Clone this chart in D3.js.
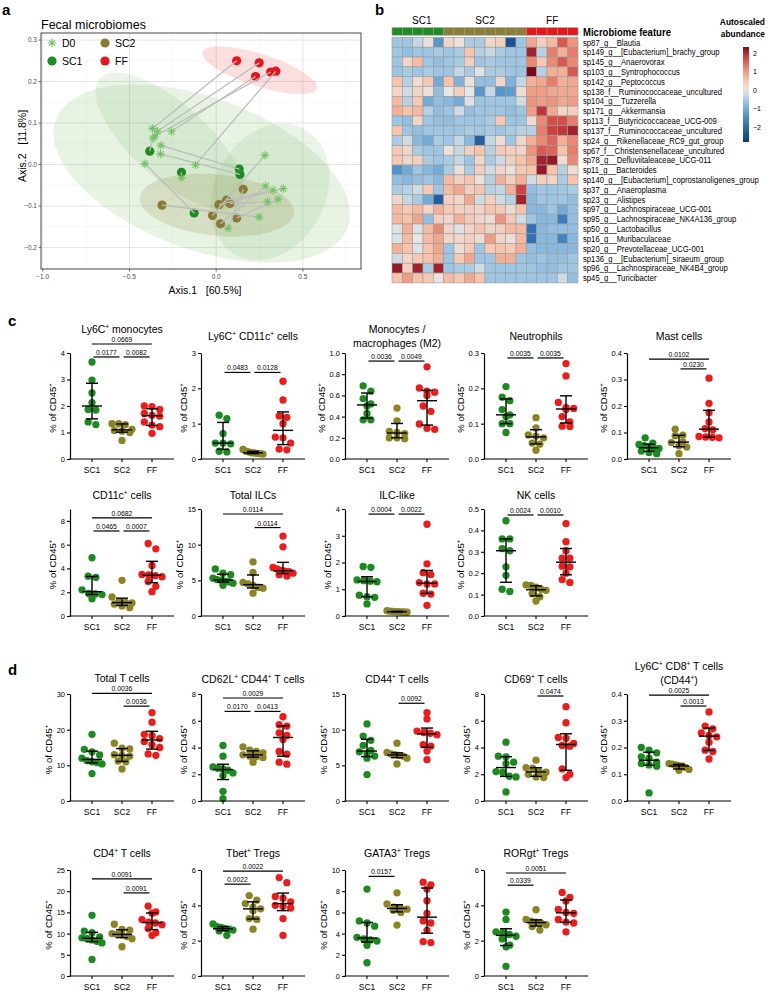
<!DOCTYPE html>
<html>
<head>
<meta charset="utf-8">
<script src="https://cdn.jsdelivr.net/npm/d3@7"></script>
<style>
  body { margin: 0; background: #fff; }
  svg { display: block; font-family: "Liberation Sans", Arial, Helvetica, sans-serif; }
</style>
</head>
<body>
<svg id="fig" width="768" height="992"></svg>
<script>
// ---- panel a : PCoA, each mouse has a D0 point and an end point ----
var d0X = [-0.367, -0.338, -0.257, -0.354, -0.119, -0.364, -0.200, -0.319, -0.321, -0.411, 0.248, 0.069, 0.329, 0.387, 0.281, 0.285, 0.358, 0.296];
var d0Y = [0.087, 0.080, 0.080, 0.068, -0.001, 0.063, -0.033, 0.046, 0.025, 0.002, -0.127, -0.154, -0.062, -0.058, 0.022, -0.052, -0.084, -0.090];
var endGroup = ["FF", "FF", "FF", "FF", "FF", "SC1", "SC1", "SC1", "SC1", "SC1", "SC2", "SC2", "SC2", "SC2", "SC2", "SC2", "SC2", "SC2"];
var endX = [0.118, 0.248, 0.227, 0.314, 0.344, -0.383, -0.200, 0.133, 0.137, -0.127, -0.312, 0.156, 0.060, 0.016, -0.021, 0.025, 0.118, 0.079];
var endY = [0.250, 0.245, 0.212, 0.223, 0.225, 0.032, -0.019, -0.011, -0.024, -0.117, -0.098, -0.060, -0.086, -0.097, -0.123, -0.143, -0.129, -0.094];
// confidence ellipses: centre + two half-axis vectors (data units)
var ellGroup = ["D0", "SC1", "SC1", "SC2", "FF"];
var ellCx = [-0.083, -0.267, 0.310, 0.004, 0.252];
var ellCy = [-0.022, 0.056, -0.066, -0.098, 0.227];
var ellU = [[0.842, -0.129], [0.404, -0.151], [-0.202, -0.151], [0.444, -0.020], [0.329, -0.044]];
var ellV = [[-0.148, -0.172], [-0.144, -0.068], [0.277, -0.066], [-0.023, -0.073], [-0.028, -0.037]];
var xTicksA = [-1.0, -0.5, 0.0, 0.5];
var yTicksA = [-0.2, -0.1, 0.0, 0.1, 0.2, 0.3];
var legendA = ["D0", "SC1", "SC2", "FF"];

// ---- panel b : heatmap ----
var heatCols = ["SC1", "SC1", "SC1", "SC1", "SC1", "SC2", "SC2", "SC2", "SC2", "SC2", "SC2", "SC2", "SC2", "FF", "FF", "FF", "FF", "FF"];
var heatRows = ["sp87_g__Blautia", "sp149_g__[Eubacterium]_brachy_group", "sp145_g__Anaerovorax", "sp103_g__Syntrophococcus",
  "sp142_g__Peptococcus", "sp138_f__Ruminococcaceae_uncultured", "sp104_g__Tuzzerella", "sp171_g__Akkermansia",
  "sp113_f__Butyricicoccaceae_UCG-009", "sp137_f__Ruminococcaceae_uncultured", "sp24_g__Rikenellaceae_RC9_gut_group",
  "sp67_f__Christensenellaceae_uncultured", "sp78_g__Defluviitaleaceae_UCG-011", "sp11_g__Bacteroides",
  "sp140_g__[Eubacterium]_coprostanoligenes_group", "sp37_g__Anaeroplasma", "sp23_g__Alistipes",
  "sp97_g__Lachnospiraceae_UCG-001", "sp95_g__Lachnospiraceae_NK4A136_group", "sp50_g__Lactobacillus",
  "sp16_g__Muribaculaceae", "sp20_g__Prevotellaceae_UCG-001", "sp136_g__[Eubacterium]_siraeum_group",
  "sp96_g__Lachnospiraceae_NK4B4_group", "sp45_g__Turicibacter"];
var heatValues = [
  [-0.6, -0.6, -0.3, 0.1, -1.3, 0.3, 0.1, -0.5, -0.5, 0.3, 0.4, -2.4, -0.6, 0.9, 0.4, 0.7, 1.6, 1.1],
  [-0.6, -0.7, -0.6, -0.6, -0.5, -0.6, -0.5, 0.6, -0.4, -0.3, -0.5, -0.6, -0.6, 2.1, -0.4, 1.3, 0.8, 1.3],
  [-0.6, 0.3, 0.7, -0.6, -0.7, -0.6, -0.5, 0.4, -0.6, -0.5, -0.6, -0.6, -0.6, 1.2, 0.5, 1.2, 1.6, 1.2],
  [-0.6, -0.5, -0.6, -0.5, -0.6, -0.6, -0.3, -0.5, -0.1, -0.5, -0.5, -0.6, -0.6, 2.35, -0.4, 0.8, 0.8, 1.6],
  [0.6, -0.4, 0.2, 0.5, -1.0, 0.6, -0.9, 0.1, -0.7, -0.7, 0.3, -0.9, -0.3, 0.8, 0.9, 1.3, 0.8, 0.9],
  [0.3, -0.2, 0.3, 0.1, -0.7, 0.0, 0.4, 0.0, -1.3, -0.3, -1.3, -1.2, 0.2, 1.0, 1.0, 0.9, 0.9, 0.9],
  [0.7, -0.4, 0.5, -1.0, -0.7, -0.8, -1.0, -0.1, -0.6, -0.6, -0.6, -0.6, -0.2, 1.1, 1.0, 1.1, 0.9, 1.0],
  [0.8, 0.6, 0.7, -0.4, -0.7, -0.6, -0.2, -0.7, -0.6, -0.6, -0.6, -0.7, -0.6, 1.0, 1.9, 0.9, 0.3, 0.4],
  [-0.6, -0.7, 0.3, -0.6, -0.7, -0.7, -0.6, -0.6, -0.6, -0.5, 0.5, -0.6, -0.6, 0.2, 1.2, 1.7, 1.7, 1.3],
  [0.6, -0.6, -0.7, -0.6, -0.6, -0.6, -0.6, -0.5, -0.6, -0.5, -0.6, -0.5, -0.4, -0.4, 1.3, 1.8, 1.9, 2.1],
  [-0.5, -0.2, -0.8, -1.0, -0.5, -0.6, -0.3, -0.8, -2.2, -0.3, 0.2, -0.6, 0.3, 0.8, 1.2, 1.5, 0.8, 1.2],
  [0.5, 0.3, -0.5, -0.6, -0.6, 0.1, -0.3, 0.4, 0.6, -0.4, 0.5, 0.4, 0.3, 1.1, 1.6, 1.5, 0.6, 1.3],
  [0.5, 0.3, 0.4, -0.5, -0.6, -0.5, -0.3, -0.6, 0.3, -0.5, -0.2, 0.4, 0.6, 0.9, 2.1, 2.2, 0.2, 1.2],
  [-1.4, -1.0, -0.6, -0.8, -1.0, -0.5, 0.1, -0.5, 0.4, -0.2, 0.3, 0.1, 0.5, 0.6, 2.2, 0.6, -0.4, 0.2],
  [-0.7, -0.8, -0.7, -0.6, -0.8, 0.7, 0.4, 0.6, 0.1, -0.4, 0.8, 0.4, 0.8, -0.2, 0.4, 0.3, -0.5, 0.6],
  [-0.5, -0.4, -0.2, 0.5, -0.6, 0.7, 0.9, 0.4, 0.6, -0.4, -0.3, 0.8, 1.8, -0.7, -0.6, -0.6, -0.6, -0.5],
  [0.3, -0.3, -0.5, -1.0, -2.2, 0.4, 0.3, 0.9, -0.2, 0.4, -0.2, -0.4, 2.1, -0.8, -0.6, -0.6, -0.6, -0.7],
  [0.7, 0.5, 0.7, 0.3, 0.8, 0.5, 0.4, 0.4, 0.3, 0.6, 0.5, 0.2, 0.6, -0.8, -0.8, -0.6, -1.0, -0.7],
  [0.7, 0.6, 0.9, -0.7, 0.4, 0.3, 0.8, 0.5, 0.3, 0.2, 1.1, 0.5, -0.2, -0.6, -0.8, -0.8, -1.7, -0.7],
  [-0.1, 0.8, -0.1, 0.7, 1.2, 0.3, -0.1, 0.3, 0.6, 0.3, 0.4, 0.7, 0.7, -1.9, -0.8, -0.7, -0.7, -0.7],
  [-0.1, 0.7, 0.0, 0.7, 0.9, 0.3, 0.3, 0.4, 0.2, 1.0, 0.3, 0.1, 0.7, -1.9, -0.8, -0.8, -1.6, -0.8],
  [0.8, 0.6, -0.1, 0.6, 0.9, -0.6, 0.2, 0.5, -0.6, 0.5, 0.6, 0.5, 0.8, -0.7, -0.8, -0.8, -0.8, -0.8],
  [-0.2, 0.3, 0.5, 0.6, 0.8, -0.6, 0.5, 0.9, -0.6, -0.6, 0.8, 0.8, -0.6, -0.7, -0.6, -0.7, -0.7, -0.6],
  [2.2, 0.4, 2.1, -0.5, 2.1, -0.6, -0.5, -0.5, -0.2, -0.6, -0.6, -0.6, -0.6, -0.6, -0.7, -0.7, -0.6, -0.6],
  [0.6, 1.0, 0.6, 0.5, 0.1, 0.7, 0.5, 0.9, 0.6, -0.6, -0.6, -0.6, -0.6, -0.6, -0.6, -0.6, -0.2, -0.7]
];
var heatLegendTicks = [2, 1, 0, -1, -2];

// ---- panels c and d : % of CD45+ per group (SC1, SC2, FF) ----
var groups = ["SC1", "SC2", "FF"];
var ly6cMono = [[3.66, 2.98, 2.49, 2.13, 1.87, 1.85, 1.40, 1.30], [1.33, 1.33, 1.30, 1.12, 1.08, 1.05, 1.00, 0.70], [2.0, 1.98, 1.87, 1.72, 1.65, 1.62, 1.40, 1.28, 1.22, 0.97]];
var ly6cCd11c = [[1.24, 1.14, 0.72, 0.45, 0.45, 0.43, 0.22, 0.20], [0.27, 0.22, 0.20, 0.18, 0.17, 0.16, 0.15, 0.14], [2.2, 1.67, 1.22, 1.18, 1.0, 0.62, 0.60, 0.45, 0.28, 0.26]];
var monoM2 = [[0.69, 0.64, 0.57, 0.52, 0.50, 0.43, 0.37, 0.37], [0.48, 0.36, 0.26, 0.25, 0.24, 0.20, 0.20, 0.19], [0.87, 0.67, 0.64, 0.63, 0.60, 0.50, 0.45, 0.33, 0.29, 0.28]];
var neutro = [[0.205, 0.175, 0.165, 0.14, 0.125, 0.12, 0.10, 0.10, 0.075], [0.117, 0.088, 0.068, 0.065, 0.060, 0.045, 0.042, 0.025], [0.27, 0.235, 0.16, 0.145, 0.143, 0.14, 0.12, 0.105, 0.093, 0.092]];
var mast = [[0.08, 0.06, 0.055, 0.05, 0.045, 0.04, 0.04, 0.03, 0.025, 0.02], [0.113, 0.09, 0.088, 0.065, 0.062, 0.05, 0.045, 0.02], [0.305, 0.21, 0.175, 0.14, 0.115, 0.11, 0.085, 0.083, 0.082, 0.08]];
var cd11c = [[4.9, 3.35, 3.25, 2.2, 1.9, 1.85, 1.8, 1.45], [3.0, 1.6, 1.2, 1.15, 1.1, 1.0, 0.85, 0.7], [6.1, 5.65, 4.25, 3.5, 3.45, 3.4, 3.3, 2.9, 2.5, 2.05]];
var ilcTotal = [[6.6, 6.0, 5.8, 5.3, 5.1, 5.0, 4.9, 4.8, 4.6, 4.3], [7.6, 6.1, 4.7, 4.5, 4.3, 4.0, 3.9, 3.2], [11.2, 9.7, 6.8, 6.6, 6.4, 6.3, 6.2, 6.0, 5.8, 5.6]];
var ilcLike = [[1.85, 1.82, 1.35, 1.32, 1.30, 1.28, 0.78, 0.72, 0.70, 0.45], [0.2, 0.18, 0.17, 0.16, 0.16, 0.15, 0.15, 0.14], [3.43, 1.95, 1.62, 1.55, 1.25, 1.2, 1.2, 0.85, 0.82, 0.4]];
var nk = [[0.445, 0.36, 0.36, 0.315, 0.305, 0.23, 0.19, 0.125, 0.115], [0.145, 0.143, 0.135, 0.125, 0.12, 0.105, 0.09, 0.07], [0.432, 0.347, 0.305, 0.27, 0.27, 0.233, 0.23, 0.2, 0.17, 0.157]];
var totalT = [[18.7, 14.5, 13.8, 12.9, 12.0, 11.3, 11.0, 10.8, 10.4, 7.7], [16.2, 14.8, 14.6, 13.0, 12.8, 12.6, 11.2, 11.0, 9.0], [24.8, 22.1, 18.7, 18.3, 17.5, 16.7, 15.8, 15.0, 13.2, 12.8]];
var cd62l = [[4.15, 3.35, 2.55, 2.45, 2.4, 2.3, 2.1, 1.9, 0.72, 0.18], [4.05, 3.8, 3.7, 3.6, 3.45, 3.35, 3.3, 3.25, 2.9], [6.3, 5.7, 5.6, 5.1, 4.9, 4.6, 3.7, 3.5, 2.9, 2.75]];
var cd44 = [[10.8, 9.1, 8.5, 7.8, 7.1, 6.9, 6.6, 6.3, 6.0, 3.7], [8.1, 6.8, 6.6, 6.5, 6.4, 6.3, 6.0, 5.2], [12.4, 11.5, 9.8, 9.6, 9.5, 9.3, 7.9, 7.7, 7.0, 5.8]];
var cd69 = [[4.4, 3.35, 3.3, 2.9, 2.8, 2.2, 2.15, 1.85, 1.8, 0.68], [3.05, 2.5, 2.45, 2.2, 2.15, 2.0, 1.8, 1.75], [7.05, 5.85, 4.75, 4.7, 4.3, 4.15, 4.1, 2.4, 2.0, 1.75]];
var ly6cCd8 = [[0.20, 0.19, 0.18, 0.165, 0.16, 0.145, 0.14, 0.135, 0.13, 0.03], [0.14, 0.138, 0.135, 0.132, 0.13, 0.125, 0.118, 0.115], [0.333, 0.28, 0.27, 0.255, 0.245, 0.24, 0.22, 0.19, 0.185, 0.157]];
var cd4 = [[14.3, 10.6, 10.2, 9.2, 9.0, 8.8, 8.5, 8.2, 7.8, 3.9], [12.2, 11.0, 10.8, 10.0, 9.8, 9.7, 9.3, 8.8, 6.9], [16.5, 15.1, 14.8, 13.3, 12.7, 12.5, 12.1, 11.2, 10.2, 9.6]];
var tbet = [[2.95, 2.8, 2.75, 2.7, 2.65, 2.6, 2.55, 2.3], [4.55, 4.3, 4.1, 3.9, 3.8, 3.7, 3.25, 3.2, 2.65], [5.57, 5.28, 4.5, 4.4, 4.2, 4.0, 3.95, 3.85, 3.25, 2.3]];
var gata3 = [[8.2, 5.2, 5.0, 4.7, 3.65, 3.5, 3.4, 3.3, 2.9, 1.25], [7.85, 6.8, 6.5, 6.45, 6.3, 6.2, 6.0, 4.8], [8.85, 8.6, 8.2, 7.1, 5.9, 5.2, 5.0, 4.3, 3.25, 3.15]];
var rorgt = [[3.62, 3.2, 2.5, 2.45, 2.35, 2.25, 2.1, 1.75, 1.65, 0.55], [3.75, 3.2, 3.1, 3.05, 3.0, 2.9, 2.8, 2.6], [4.73, 4.45, 4.25, 3.77, 3.6, 3.55, 3.2, 3.05, 3.0, 2.5]];

var chartValues = [ly6cMono, ly6cCd11c, monoM2, neutro, mast, cd11c, ilcTotal, ilcLike, nk,
  totalT, cd62l, cd44, cd69, ly6cCd8, cd4, tbet, gata3, rorgt];
var chartTitles = ["Ly6C^+ monocytes", "Ly6C^+ CD11c^+ cells", "Monocytes /|macrophages (M2)", "Neutrophils", "Mast cells",
  "CD11c^+ cells", "Total ILCs", "ILC-like", "NK cells",
  "Total T cells", "CD62L^+ CD44^+ T cells", "CD44^+ T cells", "CD69^+ T cells", "Ly6C^+ CD8^+ T cells|(CD44^+)",
  "CD4^+ T cells", "Tbet^+ Tregs", "GATA3^+ Tregs", "RORgt^+ Tregs"];
var yMaxes = [4, 3, 1, 0.3, 0.4, 9, 15, 4, 0.5, 30, 8, 15, 8, 0.4, 25, 6, 10, 6];
var yTickSteps = [1, 1, 0.2, 0.1, 0.1, 2, 5, 1, 0.1, 10, 2, 5, 2, 0.1, 5, 2, 2, 2];
// comparisons: [group a, group b, p value, bracket height (data units)]
var pValues = [
  [[0, 2, "0.0669", 4.34], [0, 1, "0.0177", 3.85], [1, 2, "0.0082", 3.85]],
  [[0, 1, "0.0483", 2.45], [1, 2, "0.0128", 2.45]],
  [[0, 1, "0.0036", 0.924], [1, 2, "0.0049", 0.924]],
  [[0, 1, "0.0035", 0.286], [1, 2, "0.0035", 0.286]],
  [[0, 2, "0.0102", 0.377], [1, 2, "0.0230", 0.340]],
  [[0, 2, "0.0682", 8.26], [0, 1, "0.0465", 7.15], [1, 2, "0.0007", 7.15]],
  [[0, 2, "0.0114", 14.3], [1, 2, "0.0114", 12.4]],
  [[0, 1, "0.0004", 3.81], [1, 2, "0.0022", 3.81]],
  [[0, 1, "0.0024", 0.472], [1, 2, "0.0010", 0.472]],
  [[0, 2, "0.0036", 30.2], [1, 2, "0.0036", 26.6]],
  [[0, 2, "0.0029", 7.7], [0, 1, "0.0170", 6.7], [1, 2, "0.0413", 6.7]],
  [[1, 2, "0.0092", 13.7]],
  [[1, 2, "0.0474", 7.85]],
  [[0, 2, "0.0025", 0.396], [1, 2, "0.0013", 0.355]],
  [[0, 2, "0.0091", 22.9], [1, 2, "0.0091", 19.6]],
  [[0, 2, "0.0022", 5.94], [0, 1, "0.0022", 5.2]],
  [[0, 1, "0.0157", 9.4]],
  [[0, 2, "0.0051", 5.83], [0, 1, "0.0339", 5.14]]
];

var svg = d3.select("#fig");

// panel letters
[["a", 2, 15], ["b", 375, 15], ["c", 8, 326], ["d", 8, 675]].forEach(function (l) {
  svg.append("text").attr("x", l[1]).attr("y", l[2]).attr("font-size", 15).attr("font-weight", "bold").text(l[0]);
});

// ========== panel a ==========
var pcoaColor = {D0: "#74c26a", SC1: "#1e8c23", SC2: "#8b7a35", FF: "#e5151a"};
var ellFill = {D0: ["#8cc57a", 0.2], SC1: ["#5aa64e", 0.12], SC2: ["#8f8a40", 0.2], FF: ["#ef6a6a", 0.22]};
var xA = d3.scaleLinear().domain([-1.01, 0.835]).range([41, 361]);
var yA = d3.scaleLinear().domain([-0.252, 0.317]).range([269, 33]);
var gA = svg.append("g");
gA.append("clipPath").attr("id", "clipA").append("rect")
  .attr("x", 41).attr("y", 33).attr("width", 320).attr("height", 236);
gA.append("rect").attr("x", 41).attr("y", 33).attr("width", 320).attr("height", 236).attr("fill", "#fff");

var gridA = gA.append("g").attr("clip-path", "url(#clipA)");
var minorX = xTicksA.map(function (v) { return v + 0.25; });
var minorY = [-0.25].concat(yTicksA.map(function (v) { return v + 0.05; }));
gridA.selectAll(".mx").data(minorX).enter().append("line")
  .attr("x1", xA).attr("x2", xA).attr("y1", 33).attr("y2", 269).attr("stroke", "#f2f2f2").attr("stroke-width", 0.6);
gridA.selectAll(".my").data(minorY).enter().append("line")
  .attr("y1", yA).attr("y2", yA).attr("x1", 41).attr("x2", 361).attr("stroke", "#f2f2f2").attr("stroke-width", 0.6);
gridA.selectAll(".gx").data(xTicksA).enter().append("line")
  .attr("x1", xA).attr("x2", xA).attr("y1", 33).attr("y2", 269).attr("stroke", "#e3e3e3").attr("stroke-width", 1);
gridA.selectAll(".gy").data(yTicksA).enter().append("line")
  .attr("y1", yA).attr("y2", yA).attr("x1", 41).attr("x2", 361).attr("stroke", "#e3e3e3").attr("stroke-width", 1);

var ellLine = d3.line().curve(d3.curveLinearClosed);
ellGroup.forEach(function (g, i) {
  var pts = d3.range(72).map(function (k) {
    var t = k / 72 * 2 * Math.PI;
    return [xA(ellCx[i] + Math.cos(t) * ellU[i][0] + Math.sin(t) * ellV[i][0]),
            yA(ellCy[i] + Math.cos(t) * ellU[i][1] + Math.sin(t) * ellV[i][1])];
  });
  gridA.append("path").attr("d", ellLine(pts))
    .attr("fill", ellFill[g][0]).attr("fill-opacity", ellFill[g][1]);
});

var markA = gA.append("g").attr("clip-path", "url(#clipA)");
markA.selectAll(".end").data(d3.range(endX.length)).enter().append("circle")
  .attr("cx", function (i) { return xA(endX[i]); })
  .attr("cy", function (i) { return yA(endY[i]); })
  .attr("r", 4.6).attr("fill", function (i) { return pcoaColor[endGroup[i]]; });
markA.selectAll(".lnk").data(d3.range(endX.length)).enter().append("line")
  .attr("x1", function (i) { return xA(d0X[i]); }).attr("y1", function (i) { return yA(d0Y[i]); })
  .attr("x2", function (i) { return xA(endX[i]); }).attr("y2", function (i) { return yA(endY[i]); })
  .attr("stroke", "#bdbdbd").attr("stroke-width", 1.3);

function asterisk(cx, cy, s) {
  var d = "";
  [0, 45, 90, 135].forEach(function (a) {
    var r = a * Math.PI / 180, dx = Math.cos(r) * s, dy = Math.sin(r) * s;
    d += "M" + (cx - dx) + "," + (cy - dy) + "L" + (cx + dx) + "," + (cy + dy);
  });
  return d;
}
markA.selectAll(".d0").data(d3.range(d0X.length)).enter().append("path")
  .attr("d", function (i) { return asterisk(xA(d0X[i]), yA(d0Y[i]), 4.2); })
  .attr("stroke", pcoaColor.D0).attr("stroke-width", 1.1);

gA.append("rect").attr("x", 41).attr("y", 33).attr("width", 320).attr("height", 236)
  .attr("fill", "none").attr("stroke", "#333").attr("stroke-width", 0.9);

var fmtA = d3.format(".1f");
yTicksA.forEach(function (v) {
  gA.append("line").attr("x1", 38.5).attr("x2", 41).attr("y1", yA(v)).attr("y2", yA(v)).attr("stroke", "#333").attr("stroke-width", 0.7);
  gA.append("text").attr("x", 37).attr("y", yA(v)).attr("dy", "0.35em").attr("text-anchor", "end")
    .attr("font-size", 6.5).attr("fill", "#4d4d4d").text(fmtA(v));
});
xTicksA.forEach(function (v) {
  gA.append("line").attr("x1", xA(v)).attr("x2", xA(v)).attr("y1", 269).attr("y2", 271.5).attr("stroke", "#333").attr("stroke-width", 0.7);
  gA.append("text").attr("x", xA(v)).attr("y", 279).attr("text-anchor", "middle")
    .attr("font-size", 6.5).attr("fill", "#4d4d4d").text(fmtA(v));
});
gA.append("text").attr("x", 205).attr("y", 294).attr("text-anchor", "middle").attr("font-size", 10.5)
  .style("white-space", "pre").text("Axis.1   [60.5%]");
gA.append("text").attr("transform", "translate(26,146) rotate(-90)").attr("text-anchor", "middle").attr("font-size", 10.5)
  .style("white-space", "pre").text("Axis.2   [11.8%]");
gA.append("text").attr("x", 41).attr("y", 29).attr("font-size", 12.5).text("Fecal microbiomes");

legendA.forEach(function (g, i) {
  var lx = 52 + Math.floor(i / 2) * 53, ly = 43 + (i % 2) * 18;
  if (g === "D0") {
    gA.append("path").attr("d", asterisk(lx, ly, 4.2)).attr("stroke", pcoaColor.D0).attr("stroke-width", 1.1);
  } else {
    gA.append("circle").attr("cx", lx).attr("cy", ly).attr("r", 4.6).attr("fill", pcoaColor[g]);
  }
  gA.append("text").attr("x", lx + 10).attr("y", ly).attr("dy", "0.36em").attr("font-size", 10.5).text(g);
});

// ========== panel b ==========
var groupColor = {SC1: "#1e8c23", SC2: "#8b7d33", FF: "#e5151a"};
var hx = d3.scaleBand().domain(d3.range(heatCols.length)).range([392, 578]);
var hy = d3.scaleBand().domain(heatRows).range([37.4, 282.9]);
var heatColor = d3.scaleLinear()
  .domain([-2.8, -2.0, -1.2, -0.6, 0, 0.6, 1.2, 1.8, 2.35])
  .range(["#0c3b77", "#2a6db0", "#5d9dd0", "#9cc6e3", "#e9e7e5", "#f7c3aa", "#eb8a72", "#cf4141", "#7d0a1c"])
  .clamp(true);
var gB = svg.append("g");
heatValues.forEach(function (row, ri) {
  gB.selectAll(null).data(row).enter().append("rect")
    .attr("x", function (d, j) { return hx(j); }).attr("y", hy(heatRows[ri]))
    .attr("width", hx.bandwidth()).attr("height", hy.bandwidth())
    .attr("fill", function (d) { return heatColor(d); })
    .attr("stroke", "#9b9b9b").attr("stroke-width", 0.6);
});
gB.selectAll(".ann").data(heatCols).enter().append("rect")
  .attr("x", function (d, j) { return hx(j); }).attr("y", 27.7)
  .attr("width", hx.bandwidth()).attr("height", 7.5)
  .attr("fill", function (d) { return groupColor[d]; })
  .attr("stroke", "#9b9b9b").attr("stroke-width", 0.6);
groups.forEach(function (g) {
  var idx = d3.range(heatCols.length).filter(function (j) { return heatCols[j] === g; });
  var cx = d3.mean(idx, function (j) { return hx(j) + hx.bandwidth() / 2; });
  gB.append("text").attr("x", cx + (g === "SC1" ? 4 : 0)).attr("y", 24).attr("text-anchor", "middle").attr("font-size", 10).text(g);
});
// row labels in a horizontally condensed group (narrow face)
var labG = gB.append("g");
var rowLabels = labG.selectAll(".rl").data(heatRows).enter().append("text")
  .attr("x", 0).attr("y", function (d) { return hy(d) + hy.bandwidth() / 2; }).attr("dy", "0.36em")
  .attr("font-size", 9).text(function (d) { return d; });
var maxLab = d3.max(rowLabels.nodes(), function (n) { return n.getComputedTextLength(); });
labG.attr("transform", "translate(583,0) scale(" + (176 / maxLab) + ",1)");
var mfG = gB.append("g");
var mf = mfG.append("text").attr("x", 0).attr("y", 36).attr("font-size", 10).attr("font-weight", "bold").text("Microbiome feature");
mfG.attr("transform", "translate(583,0) scale(" + Math.min(1, 88 / mf.node().getComputedTextLength()) + ",1)");
gB.append("text").attr("x", 765).attr("y", 25).attr("text-anchor", "end").attr("font-size", 8.4).attr("font-weight", "bold").text("Autoscaled");
gB.append("text").attr("x", 765).attr("y", 37).attr("text-anchor", "end").attr("font-size", 8.4).attr("font-weight", "bold").text("abundance");
var cbY = d3.scaleLinear().domain([-2.8, 2.35]).range([142, 47]);
var grad = svg.append("defs").append("linearGradient").attr("id", "cbGrad")
  .attr("x1", 0).attr("y1", 1).attr("x2", 0).attr("y2", 0);
d3.range(0, 1.0001, 0.05).forEach(function (t) {
  grad.append("stop").attr("offset", t).attr("stop-color", heatColor(-2.8 + t * 5.15));
});
gB.append("rect").attr("x", 743).attr("y", 47).attr("width", 6).attr("height", 95).attr("fill", "url(#cbGrad)");
heatLegendTicks.forEach(function (v) {
  gB.append("text").attr("x", 753).attr("y", cbY(v)).attr("dy", "0.35em").attr("font-size", 7)
    .text(d3.format("d")(v));
});

// ========== panels c, d ==========
var dotColors = ["#1b8a1f", "#8c8423", "#ef1b1b"];
var rowBottom = [459, 616, 801, 976], rowTop = [353, 509, 694, 870], rowTitleY = [336, 495, 679, 853];
var colAxisX = [70, 201, 345, 484, 627];
var chartCell = [[0, 0], [0, 1], [0, 2], [0, 3], [0, 4], [1, 0], [1, 1], [1, 2], [1, 3],
  [2, 0], [2, 1], [2, 2], [2, 3], [2, 4], [3, 0], [3, 1], [3, 2], [3, 3]];

function addRich(textSel, str, fs) {
  var parts = str.split("^+");
  var shift = fs * 0.38;
  parts.forEach(function (p, i) {
    if (p.length) {
      var t = textSel.append("tspan").text(p);
      if (i > 0) t.attr("dy", shift);
    }
    if (i < parts.length - 1) {
      textSel.append("tspan").attr("font-size", fs * 0.62).attr("dy", -shift).text("+");
    }
  });
}

function gpQuant(sorted, p) {
  var n = sorted.length, h = (n + 1) * p;
  if (h <= 1) return sorted[0];
  if (h >= n) return sorted[n - 1];
  var lo = Math.floor(h);
  return sorted[lo - 1] + (h - lo) * (sorted[lo] - sorted[lo - 1]);
}

function swarm(vals, y, cx, r) {
  var pts = vals.map(function (v) { return {v: v, py: y(v)}; })
    .sort(function (a, b) { return a.py - b.py; });
  var rows = [];
  pts.forEach(function (p) {
    var last = rows[rows.length - 1];
    if (last && p.py - last[0].py < r * 1.7) last.push(p); else rows.push([p]);
  });
  rows.forEach(function (row) {
    var k = row.length;
    var step = k > 1 ? Math.min(2 * r + 0.4, 20 / (k - 1)) : 0;
    row.forEach(function (p, j) { p.px = cx + (j - (k - 1) / 2) * step; });
  });
  return pts;
}

chartValues.forEach(function (vals, i) {
  var r = chartCell[i][0], ax = colAxisX[chartCell[i][1]];
  var y = d3.scaleLinear().domain([0, yMaxes[i]]).range([rowBottom[r], rowTop[r]]);
  var x = d3.scalePoint().domain(groups).range([ax + 22, ax + 82]);
  var g = svg.append("g");

  // dots
  vals.forEach(function (gv, gi) {
    var pts = swarm(gv, y, x(groups[gi]), 3.65);
    g.selectAll(null).data(pts).enter().append("circle")
      .attr("cx", function (d) { return d.px; }).attr("cy", function (d) { return d.py; })
      .attr("r", 3.65).attr("fill", dotColors[gi]);
  });
  // median with interquartile range
  vals.forEach(function (gv, gi) {
    var s = gv.slice().sort(d3.ascending);
    var med = d3.median(s), q1 = gpQuant(s, 0.25), q3 = gpQuant(s, 0.75);
    var cx = x(groups[gi]);
    g.append("line").attr("x1", cx).attr("x2", cx).attr("y1", y(q1)).attr("y2", y(q3)).attr("stroke", "#000").attr("stroke-width", 1.4);
    g.append("line").attr("x1", cx - 6).attr("x2", cx + 6).attr("y1", y(q1)).attr("y2", y(q1)).attr("stroke", "#000").attr("stroke-width", 1.4);
    g.append("line").attr("x1", cx - 6).attr("x2", cx + 6).attr("y1", y(q3)).attr("y2", y(q3)).attr("stroke", "#000").attr("stroke-width", 1.4);
    g.append("line").attr("x1", cx - 10).attr("x2", cx + 10).attr("y1", y(med)).attr("y2", y(med)).attr("stroke", "#000").attr("stroke-width", 1.4);
  });

  // y axis
  var ticks = d3.range(0, yMaxes[i] + 1e-9, yTickSteps[i]);
  var fmt = yTickSteps[i] < 1 ? d3.format(".1f") : d3.format("d");
  var ga = g.append("g").attr("transform", "translate(" + ax + ",0)")
    .call(d3.axisLeft(y).tickValues(ticks).tickFormat(fmt).tickSize(3).tickSizeOuter(0).tickPadding(2));
  ga.select(".domain").attr("stroke", "#000").attr("stroke-width", 1.2);
  ga.selectAll(".tick line").attr("stroke", "#000").attr("stroke-width", 1.1);
  ga.selectAll(".tick text").attr("font-size", 7.5).attr("font-family", null).attr("fill", "#000");
  var tw = d3.max(ga.selectAll(".tick text").nodes(), function (n) { return n.getComputedTextLength(); });

  // x axis
  g.append("line").attr("x1", ax - 0.6).attr("x2", ax + 104).attr("y1", rowBottom[r]).attr("y2", rowBottom[r])
    .attr("stroke", "#000").attr("stroke-width", 1.2);
  groups.forEach(function (gn) {
    g.append("line").attr("x1", x(gn)).attr("x2", x(gn)).attr("y1", rowBottom[r]).attr("y2", rowBottom[r] + 3)
      .attr("stroke", "#000").attr("stroke-width", 1.1);
    g.append("text").attr("x", x(gn)).attr("y", rowBottom[r] + 13.5).attr("text-anchor", "middle")
      .attr("font-size", 8.5).text(gn);
  });

  // significance brackets
  var topLine = Infinity;
  pValues[i].forEach(function (c) {
    var adjacent = c[1] - c[0] === 1;
    var x1 = x(groups[c[0]]) + (adjacent ? 1.5 : 0), x2 = x(groups[c[1]]) - (adjacent ? 2.5 : 0);
    var by = y(c[3]);
    topLine = Math.min(topLine, by);
    g.append("line").attr("x1", x1).attr("x2", x2).attr("y1", by).attr("y2", by).attr("stroke", "#000").attr("stroke-width", 1.2);
    g.append("text").attr("x", (x1 + x2) / 2).attr("y", by - 2).attr("text-anchor", "middle")
      .attr("font-size", 6.8).text(c[2]);
  });

  // title, kept clear of the highest bracket
  var lines = chartTitles[i].split("|");
  var lastC = Math.min(rowTitleY[r] + (lines.length > 1 ? 7 : 0), topLine - 4 - 11);
  lines.forEach(function (ln, li) {
    var ty = lastC - (lines.length - 1 - li) * 14 + 3.8;
    var t = g.append("text").attr("x", ax + 52).attr("y", ty).attr("text-anchor", "middle").attr("font-size", 10.5);
    addRich(t, ln, 10.5);
  });

  // y label
  var lx = ax - 4 - tw - 6;
  var yl = g.append("text").attr("transform", "translate(" + lx + "," + ((rowTop[r] + rowBottom[r]) / 2 + 2) + ") rotate(-90)")
    .attr("text-anchor", "middle").attr("font-size", 9.5);
  addRich(yl, "% of CD45^+", 9.5);
});
</script>
</body>
</html>
